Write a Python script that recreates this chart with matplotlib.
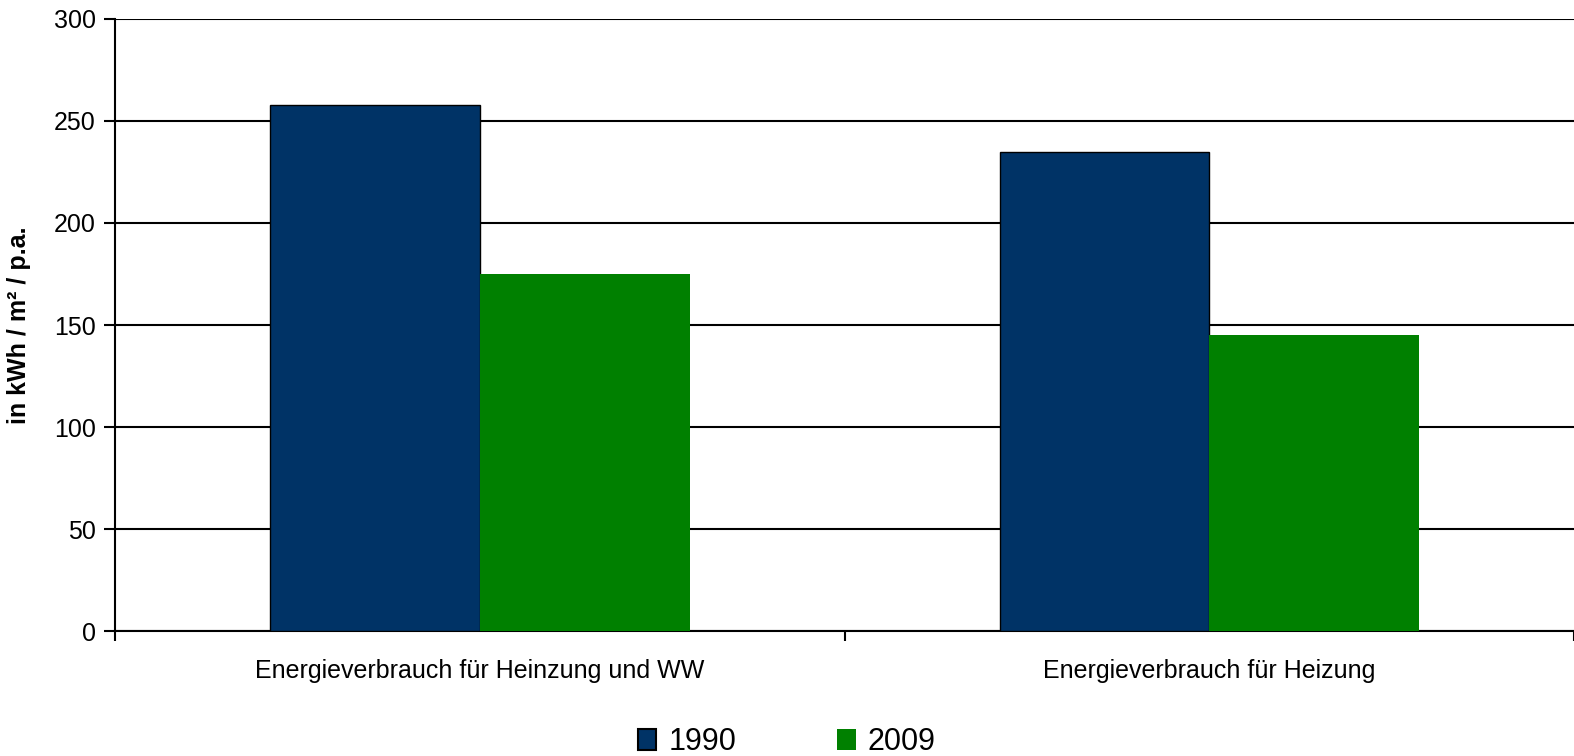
import numpy as np
import matplotlib
matplotlib.use("Agg")
import matplotlib.pyplot as plt
from matplotlib.patches import Patch

plt.rcParams['font.family'] = ['Liberation Sans', 'DejaVu Sans']

# Data
categories = ["Energieverbrauch für Heinzung und WW", "Energieverbrauch für Heizung"]
years = ["1990", "2009"]
values_1990 = [258, 235]
values_2009 = [175, 145]
colors = ["#003366", "#008000"]

fig = plt.figure(figsize=(15.74, 7.56), dpi=100)
ax = fig.add_axes([0.0731, 0.1653, 0.9269, 0.8096])

x = np.arange(len(categories))
w = 0.2875
ax.bar(x - w / 2, values_1990, w, color=colors[0], edgecolor="black", linewidth=1.0, zorder=3)
ax.bar(x + w / 2, values_2009, w, color=colors[1], edgecolor="none", zorder=3)

ax.set_ylim(0, 300)
ax.set_yticks(np.arange(0, 301, 50))
ax.set_xlim(-0.5, len(categories) - 0.5)
ax.yaxis.grid(True, color="black", linewidth=1.5, zorder=0)
ax.set_axisbelow(True)

for s in ["top", "right"]:
    ax.spines[s].set_visible(False)
ax.spines["left"].set_linewidth(1.5)
ax.spines["bottom"].set_linewidth(1.5)

ax.set_xticks(x)
ax.set_xticklabels(categories, fontsize=18)
ax.tick_params(axis="x", length=0, pad=20)
ax.set_xticks(np.arange(-0.5, len(categories), 1.0), minor=True)
ax.tick_params(axis="x", which="minor", length=7, width=1.5, direction="out")
ax.tick_params(axis="y", labelsize=18, length=8, width=1.5, pad=6)

ax.set_ylabel("in kWh / m² / p.a.", fontsize=18, fontweight="bold", labelpad=16)

handles = [Patch(facecolor=colors[0], edgecolor="black", linewidth=1.5),
           Patch(facecolor=colors[1], edgecolor="none")]
fig.legend(handles, years, loc="center", bbox_to_anchor=(0.5, 0.018), ncol=2,
           frameon=False, fontsize=22, handlelength=0.6, handleheight=0.65,
           handletextpad=0.4, columnspacing=3.3, borderpad=0.1)

fig.savefig("out.png", dpi=100)
